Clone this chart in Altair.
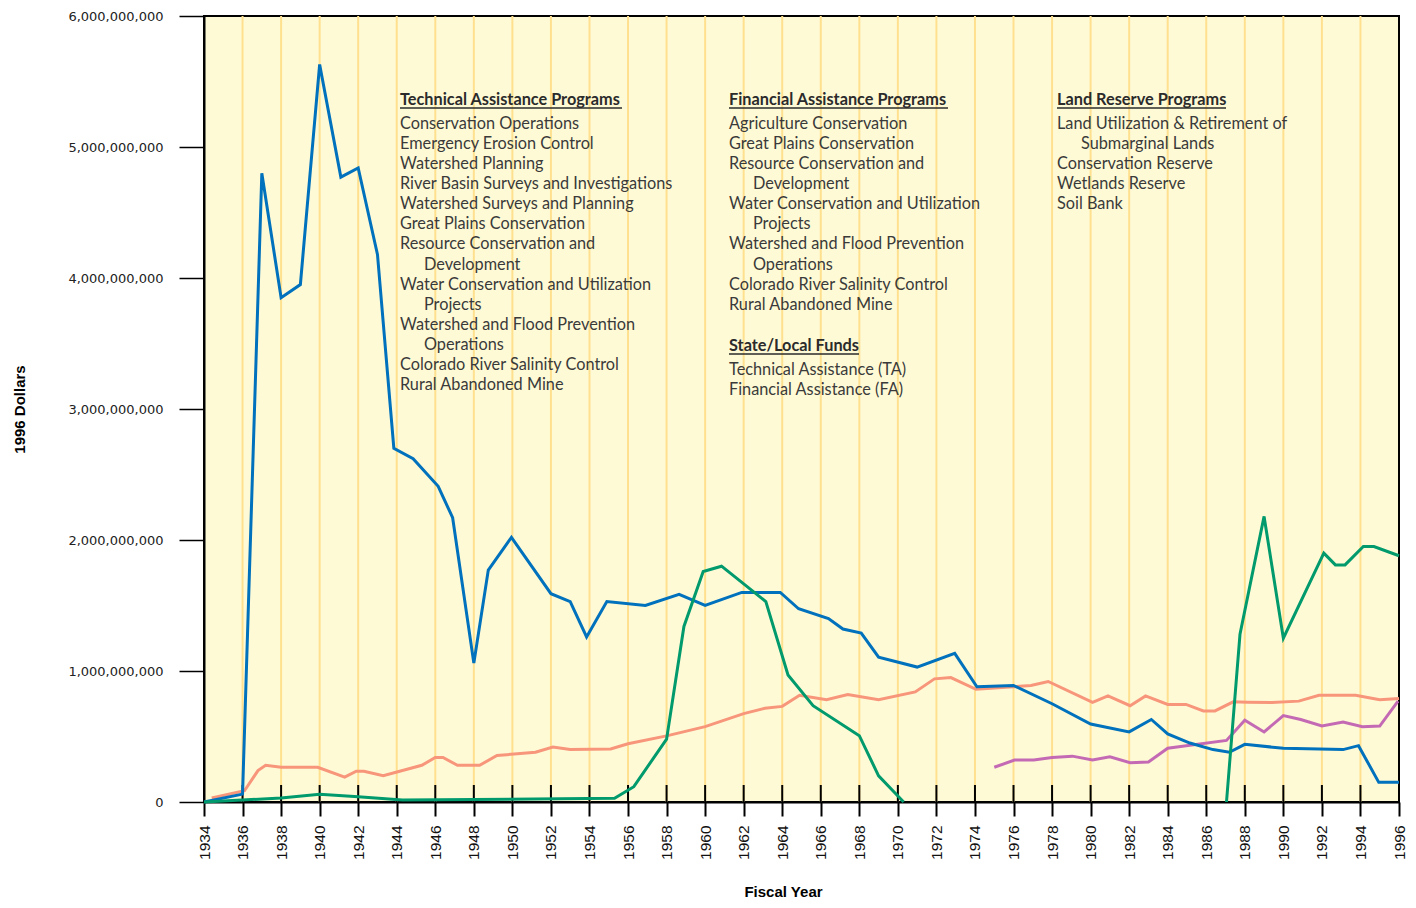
import altair as alt
import pandas as pd

# ---------------- data (values in billions of 1996 dollars) ----------------
tech_years = [1934.0, 1936.0, 1937.0, 1938.0, 1939.0, 1940.0, 1941.1, 1942.0, 1943.0, 1943.85,
              1944.85, 1946.15, 1946.9, 1948.0, 1948.75, 1949.95, 1952.0, 1953.0, 1953.85, 1954.9,
              1956.9, 1958.65, 1960.0, 1961.9, 1963.9, 1964.85, 1966.4, 1967.15, 1968.1, 1969.0,
              1971.0, 1972.95, 1974.1, 1976.0, 1978.0, 1980.0, 1982.0, 1983.15, 1984.0, 1985.15,
              1986.35, 1987.2, 1988.0, 1990.0, 1993.1, 1993.9, 1994.95, 1996.0]
tech_vals = [0.0, 0.06, 4.80, 3.85, 3.95, 5.63, 4.77, 4.84, 4.18, 2.70,
             2.62, 2.41, 2.17, 1.06, 1.77, 2.02, 1.59, 1.53, 1.26, 1.53,
             1.50, 1.585, 1.50, 1.60, 1.60, 1.475, 1.40, 1.32, 1.29, 1.105,
             1.03, 1.135, 0.88, 0.89, 0.75, 0.595, 0.535, 0.63, 0.52, 0.45,
             0.40, 0.38, 0.44, 0.41, 0.40, 0.43, 0.15, 0.15]

fin_years = [1934.4, 1936.1, 1936.8, 1937.2, 1938.0, 1939.9, 1941.3, 1941.9, 1942.3, 1943.3,
             1945.3, 1946.0, 1946.4, 1947.15, 1948.3, 1949.2, 1951.2, 1952.1, 1953.0, 1955.1,
             1956.0, 1958.0, 1960.0, 1962.0, 1963.1, 1964.0, 1964.9, 1966.3, 1967.4, 1969.0,
             1970.9, 1971.9, 1972.75, 1974.05, 1976.0, 1976.9, 1977.8, 1980.1, 1980.9, 1982.05,
             1982.85, 1984.0, 1984.95, 1985.85, 1986.45, 1987.4, 1988.15, 1989.4, 1990.8, 1991.85,
             1993.75, 1995.0, 1996.0]
fin_vals = [0.03, 0.086, 0.24, 0.28, 0.265, 0.265, 0.19, 0.235, 0.235, 0.20,
            0.28, 0.34, 0.34, 0.28, 0.28, 0.355, 0.38, 0.42, 0.40, 0.405,
            0.445, 0.505, 0.575, 0.675, 0.715, 0.73, 0.815, 0.78, 0.82, 0.78,
            0.84, 0.94, 0.95, 0.86, 0.88, 0.89, 0.92, 0.76, 0.81, 0.735,
            0.81, 0.745, 0.745, 0.695, 0.695, 0.765, 0.762, 0.76, 0.77, 0.815,
            0.815, 0.78, 0.79]

state_years = [1975.0, 1976.05, 1977.05, 1978.0, 1979.05, 1980.1, 1981.0, 1982.05, 1983.0, 1984.0,
               1987.05, 1988.0, 1989.0, 1990.0, 1990.9, 1992.0, 1993.1, 1994.1, 1995.0, 1995.95]
state_vals = [0.265, 0.32, 0.32, 0.34, 0.35, 0.32, 0.345, 0.30, 0.305, 0.41,
              0.47, 0.625, 0.535, 0.66, 0.63, 0.58, 0.61, 0.575, 0.58, 0.77]

land_years_a = [1934.0, 1938.0, 1940.0, 1942.0, 1944.3, 1955.3, 1956.3, 1958.0, 1958.9, 1959.9,
                1960.85, 1963.15, 1964.3, 1965.6, 1968.0, 1969.0, 1970.3]
land_vals_a = [0.0, 0.03, 0.06, 0.04, 0.015, 0.028, 0.117, 0.48, 1.34, 1.76,
               1.80, 1.53, 0.97, 0.735, 0.506, 0.20, 0.0]
land_years_b = [1987.05, 1987.75, 1989.0, 1990.0, 1992.1, 1992.7, 1993.2, 1994.15, 1994.7, 1996.0]
land_vals_b = [0.0, 1.28, 2.18, 1.25, 1.90, 1.81, 1.81, 1.95, 1.95, 1.88]

tick_years = list(range(1934, 1997, 2))
grid_years = list(range(1936, 1995, 2))
y_ticks = [0, 1e9, 2e9, 3e9, 4e9, 5e9, 6e9]

tech_header = "Technical Assistance Programs"
tech_lines = ["Conservation Operations", "Emergency Erosion Control", "Watershed Planning",
              "River Basin Surveys and Investigations", "Watershed Surveys and Planning",
              "Great Plains Conservation", "Resource Conservation and", "  Development",
              "Water Conservation and Utilization", "  Projects", "Watershed and Flood Prevention",
              "  Operations", "Colorado River Salinity Control", "Rural Abandoned Mine"]
fin_header = "Financial Assistance Programs"
fin_lines = ["Agriculture Conservation", "Great Plains Conservation", "Resource Conservation and",
             "  Development", "Water Conservation and Utilization", "  Projects",
             "Watershed and Flood Prevention", "  Operations", "Colorado River Salinity Control",
             "Rural Abandoned Mine"]
state_header = "State/Local Funds"
state_lines = ["Technical Assistance (TA)", "Financial Assistance (FA)"]
land_header = "Land Reserve Programs"
land_lines = ["Land Utilization & Retirement of", "  Submarginal Lands", "Conservation Reserve",
              "Wetlands Reserve", "Soil Bank"]


def frame(years, vals, seg="a"):
    return pd.DataFrame({"year": years, "dollars": [v * 1e9 for v in vals], "seg": seg})


X_SCALE = alt.Scale(domain=[1934, 1996], nice=False, zero=False)
Y_SCALE = alt.Scale(domain=[0, 6e9], nice=False, zero=False)

x_axis = alt.Axis(values=tick_years, format="d", labelAngle=270, labelFont="Liberation Sans",
                  labelFontSize=15.5, labelColor="#111111", labelPadding=9, labelFlush=False,
                  labelOverlap=False, tickSize=14, tickWidth=2, tickColor="black",
                  domainColor="black", domainWidth=2, grid=False, title="Fiscal Year",
                  titleFont="Liberation Sans", titleFontSize=15, titleFontWeight="bold",
                  titleColor="black", titlePadding=25, titleX=579)
y_axis = alt.Axis(values=y_ticks, format=",d", labelFont="DejaVu Sans", labelFontSize=13,
                  labelColor="#222222", labelPadding=16, labelFlush=False, tickSize=25,
                  tickWidth=1.5, tickColor="black", domainColor="black", domainWidth=2,
                  grid=False, title="1996 Dollars", titleFont="Liberation Sans",
                  titleFontSize=15, titleFontWeight="bold", titleColor="black", titlePadding=40)


def X():
    return alt.X("year:Q", scale=X_SCALE, axis=x_axis)


def Y(field):
    return alt.Y(field, scale=Y_SCALE, axis=y_axis)


grid_df = pd.DataFrame({"year": grid_years})
tick_df = pd.DataFrame({"year": tick_years})

grid_layer = alt.Chart(grid_df).transform_calculate(
    y0="0", y1="6000000000"
).mark_rule(color="#FFE08F", strokeWidth=2).encode(x=X(), y=Y("y0:Q"), y2="y1:Q")

inner_ticks = alt.Chart(tick_df).transform_calculate(
    y0="0", y1="130000000"
).mark_rule(color="black", strokeWidth=2).encode(x=X(), y=Y("y0:Q"), y2="y1:Q")


def series(df, color):
    return alt.Chart(df).mark_line(color=color, strokeWidth=3, strokeJoin="miter",
                                   strokeMiterLimit=4).encode(
        x=X(), y=Y("dollars:Q"), detail="seg:N")


lines = [
    series(frame(fin_years, fin_vals), "#F7967A"),
    series(frame(state_years, state_vals), "#C46AB4"),
    series(frame(tech_years, tech_vals), "#0071BC"),
    series(pd.concat([frame(land_years_a, land_vals_a, "a"),
                      frame(land_years_b, land_vals_b, "b")]), "#009A6D"),
]

OX, OY = 204, 16  # view origin in page pixels
STEP = 20.15
INDENT = 24
TEXT_FONT = "Lato"
TEXT_SIZE = 16.3
text_layers = []


def add_text(txt, px, py, bold=False):
    text_layers.append(
        alt.Chart(alt.Data(values=[{}])).mark_text(
            text=txt, align="left", baseline="middle", font=TEXT_FONT, fontSize=TEXT_SIZE,
            fontWeight="bold" if bold else "normal",
            color="#2b2b2b" if bold else "#3a3a3a",
        ).encode(x=alt.value(px - OX), y=alt.value(py - OY))
    )


def add_underline(px, py, w):
    text_layers.append(
        alt.Chart(alt.Data(values=[{}])).mark_rule(color="#2b2b2b", strokeWidth=1.5).encode(
            x=alt.value(px - OX), x2=alt.value(px - OX + w), y=alt.value(py - OY))
    )


def add_block(header, items, px, py, uw):
    add_text(header, px, py, bold=True)
    add_underline(px, py + 8.5, uw)
    for i, t in enumerate(items):
        ind = INDENT if t.startswith("  ") else 0
        add_text(t.strip(), px + ind, py + 24 + STEP * i)


add_block(tech_header, tech_lines, 400, 99.5, 222)
add_block(fin_header, fin_lines, 729, 99.5, 219)
add_block(state_header, state_lines, 729, 345.5, 130)
add_block(land_header, land_lines, 1057, 99.5, 169)

chart = alt.layer(grid_layer, inner_ticks, *lines, *text_layers).properties(
    width=1400, height=892,
    autosize=alt.AutoSizeParams(type="fit", contains="padding"),
    padding={"left": 4, "right": 0, "top": 2, "bottom": 0},
).configure_view(fill="#FFFAD6", stroke="black", strokeWidth=2)

chart.save("out.html", embed_options={"renderer": "svg", "actions": False})
